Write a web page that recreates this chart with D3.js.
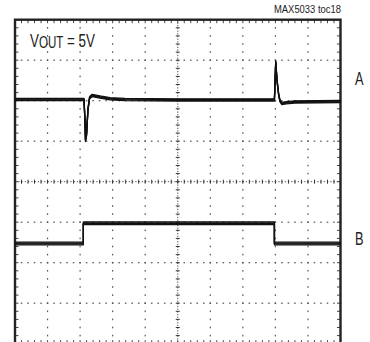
<!DOCTYPE html>
<html>
<head>
<meta charset="utf-8">
<script src="https://cdn.jsdelivr.net/npm/d3@7"></script>
<style>
  body { margin: 0; background: #fff; }
  svg { display: block; }
  text { font-family: "Liberation Sans Narrow", "Liberation Sans", Arial, sans-serif; fill: #222; }
</style>
</head>
<body>
<svg id="scope" width="370" height="342"></svg>
<script>
// Graticule: 10 horizontal by 8 vertical divisions, 5 minor marks per division
const xMajor = d3.range(0, 11);
const yMajor = d3.range(-4, 5);
const minorPerDiv = 5;

// Trace A: output voltage (position in divisions) vs time (divisions)
const traceATime = [0, 2.12, 2.15, 2.166, 2.197, 2.24, 2.29, 2.37, 2.61, 2.92, 3.38, 5.0, 7.97, 8.01, 8.05, 8.10, 8.14, 8.20, 8.33, 8.6, 10];
const traceAVolt = [2.03, 2.03, 1.5, 1.02, 1.15, 1.77, 2.07, 2.13, 2.09, 2.05, 2.03, 2.02, 2.02, 2.96, 2.5, 2.15, 2.0, 1.93, 1.95, 1.97, 1.98];

// Trace B: load current step
const traceBTime = [0, 2.10, 2.10, 7.97, 7.97, 10];
const traceBVolt = [-1.53, -1.53, -1.03, -1.03, -1.53, -1.53];

// Labels
const outputLabelParts = ["V", "OUT", " = 5V"];
const figureTag = "MAX5033 toc18";
const channelLabels = ["A", "B"];
const channelLevels = [2.55, -1.4];

const svg = d3.select("#scope");
const x = d3.scaleLinear().domain([0, 10]).range([15, 340.5]);
const y = d3.scaleLinear().domain([-4, 4]).range([343.7, 19.7]);

const xMinor = d3.range(0, 10 * minorPerDiv + 1).map(i => i / minorPerDiv);
const yMinor = d3.range(-4 * minorPerDiv, 4 * minorPerDiv + 1).map(i => i / minorPerDiv);

const grid = svg.append("g").attr("class", "graticule");

// dotted vertical grid lines
xMajor.filter(v => v > 0 && v < 10 && v !== 5).forEach(v => {
  grid.append("g").selectAll("rect").data(yMinor).join("rect")
    .attr("x", x(v) - 0.6).attr("y", d => y(d) - 0.8)
    .attr("width", 1.2).attr("height", 1.6).attr("fill", "#555");
});
// dotted horizontal grid lines
yMajor.filter(v => v > -4 && v < 4 && v !== 0).forEach(v => {
  grid.append("g").selectAll("rect").data(xMinor).join("rect")
    .attr("x", d => x(d) - 0.8).attr("y", y(v) - 0.6)
    .attr("width", 1.6).attr("height", 1.2).attr("fill", "#555");
});

// centre axes with minor ticks
grid.append("line")
  .attr("x1", x(0)).attr("x2", x(10)).attr("y1", y(0)).attr("y2", y(0))
  .attr("stroke", "#555").attr("stroke-width", 1).attr("stroke-dasharray", "1.3,1.95");
grid.append("line")
  .attr("x1", x(5)).attr("x2", x(5)).attr("y1", y(4)).attr("y2", y(-4))
  .attr("stroke", "#555").attr("stroke-width", 1).attr("stroke-dasharray", "1.3,1.4");
grid.append("g").selectAll("line").data(xMinor).join("line")
  .attr("x1", d => x(d)).attr("x2", d => x(d))
  .attr("y1", y(0) - 2).attr("y2", y(0) + 2)
  .attr("stroke", "#333").attr("stroke-width", 1);
grid.append("g").selectAll("line").data(yMinor).join("line")
  .attr("x1", x(5) - 2).attr("x2", x(5) + 2)
  .attr("y1", d => y(d)).attr("y2", d => y(d))
  .attr("stroke", "#333").attr("stroke-width", 1);

// inner ticks along the frame
const tick = 2.5;
grid.append("g").selectAll("line").data(xMinor).join("line")
  .attr("x1", d => x(d)).attr("x2", d => x(d))
  .attr("y1", y(4)).attr("y2", y(4) + tick + 1)
  .attr("stroke", "#444").attr("stroke-width", 1);
grid.append("g").selectAll("line").data(xMinor).join("line")
  .attr("x1", d => x(d)).attr("x2", d => x(d))
  .attr("y1", y(-4)).attr("y2", y(-4) - tick - 1)
  .attr("stroke", "#444").attr("stroke-width", 1);
grid.append("g").selectAll("line").data(yMinor).join("line")
  .attr("x1", x(0)).attr("x2", x(0) + tick + 1)
  .attr("y1", d => y(d)).attr("y2", d => y(d))
  .attr("stroke", "#444").attr("stroke-width", 1);
grid.append("g").selectAll("line").data(yMinor).join("line")
  .attr("x1", x(10)).attr("x2", x(10) - tick - 1)
  .attr("y1", d => y(d)).attr("y2", d => y(d))
  .attr("stroke", "#444").attr("stroke-width", 1);

// frame
svg.append("rect")
  .attr("x", x(0)).attr("y", y(4))
  .attr("width", x(10) - x(0)).attr("height", y(-4) - y(4))
  .attr("fill", "none").attr("stroke", "#222").attr("stroke-width", 2.4);

// traces: thin line repeated with small vertical offsets to give the noisy band
const line = d3.line().x(d => x(d[0])).y(d => y(d[1]));
function drawTrace(times, volts, offsets) {
  const pts = times.map((t, i) => [t, volts[i]]);
  const g = svg.append("g");
  offsets.forEach(dy => {
    g.append("path").datum(pts)
      .attr("d", line)
      .attr("transform", `translate(0,${dy})`)
      .attr("fill", "none").attr("stroke", "#111")
      .attr("stroke-width", 1.3).attr("stroke-linejoin", "round");
  });
}
drawTrace(traceATime, traceAVolt, [-1.1, -0.4, 0.4, 1.1]);
drawTrace(traceBTime, traceBVolt, [-1.5, -0.6, 0.3, 1.2]);

// fit a text element horizontally into a given width (condensed lettering)
function fitWidth(sel, left, width) {
  const w = sel.node().getComputedTextLength();
  sel.attr("transform", `translate(${left},0) scale(${width / w},1)`);
}

// output voltage label: V with subscript OUT, then " = 5V"
const vlab = svg.append("text").attr("x", 0).attr("y", 46.7).attr("font-size", 18.5);
vlab.append("tspan").text(outputLabelParts[0]);
vlab.append("tspan").attr("font-size", 16).attr("dy", 1).text(outputLabelParts[1]);
vlab.append("tspan").attr("dy", -1).text(outputLabelParts[2]);
fitWidth(vlab, 30, 65);

const tag = svg.append("text").attr("x", 0).attr("y", 13.3).attr("font-size", 10).text(figureTag);
fitWidth(tag, 274, 67);

svg.append("g").selectAll("text").data(channelLabels).join("text")
  .attr("x", 355).attr("y", (d, i) => y(channelLevels[i]) + 6.5)
  .attr("font-size", 18).attr("textLength", 8.5).attr("lengthAdjust", "spacingAndGlyphs")
  .text(d => d);
</script>
</body>
</html>
